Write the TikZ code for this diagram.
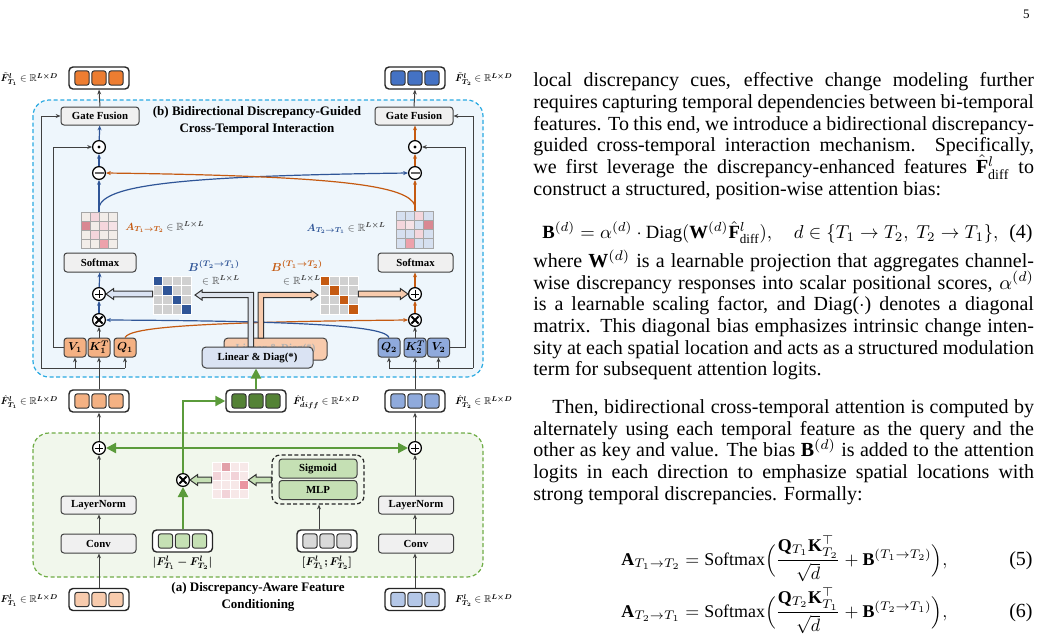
\documentclass[tikz,border=0pt]{standalone}
\usepackage{amsmath,amssymb,bm}
\usepackage{fontspec}
\setmainfont{Liberation Serif}
\usetikzlibrary{arrows.meta,calc}
\definecolor{bfill}{HTML}{EEF6FC}
\definecolor{bline}{HTML}{2AAAE2}
\definecolor{afill}{HTML}{F1F7EC}
\definecolor{aline}{HTML}{70AD47}
\definecolor{gbox}{HTML}{F0F0F0}
\definecolor{dk}{HTML}{404040}
\definecolor{orD}{HTML}{ED7D31}
\definecolor{orM}{HTML}{F4B183}
\definecolor{orL}{HTML}{F8CBAD}
\definecolor{blD}{HTML}{4472C4}
\definecolor{blM}{HTML}{8FAADC}
\definecolor{blL}{HTML}{B4C7E7}
\definecolor{gnD}{HTML}{548235}
\definecolor{gnL}{HTML}{C5E0B4}
\definecolor{gy}{HTML}{D9D9D9}
\definecolor{arrB}{HTML}{2F5597}
\definecolor{arrO}{HTML}{C55A11}
\definecolor{grn}{HTML}{5B9B3B}
\definecolor{ldiag}{HTML}{DAE3F3}
\definecolor{lgray}{HTML}{DDE3EC}
\definecolor{mb}{HTML}{F2EDE9}
\definecolor{lb}{HTML}{D6E0F0}
\definecolor{pA}{HTML}{F4D6DC}
\definecolor{pB}{HTML}{F6E2E6}
\definecolor{pC}{HTML}{EDA1AB}
\definecolor{pD}{HTML}{D98892}
\definecolor{pa}{HTML}{F7E8E8}
\definecolor{qA}{HTML}{F2D3D8}
\definecolor{qB}{HTML}{E2A1A9}
\definecolor{qC}{HTML}{EA95A2}
\definecolor{gB}{HTML}{D0D0D0}
\newcommand\grid[6]{%
  \node[inner sep=0, minimum size={4*#4*0.5pt}] (#1) at ({#2+2*#4},{#3+2*#4}) {};
  \foreach \c [count=\i from 0] in {#6} {%
    \pgfmathtruncatemacro\gridr{floor(\i/4)}%
    \pgfmathtruncatemacro\gridc{mod(\i,4)}%
    \path[fill=\c, draw=#5, line width=0.4pt] ({#2+\gridc*#4},{#3+\gridr*#4}) rectangle ++(#4,#4);
  }}
\newcommand\tok[4]{%
  \node[tokbox] (#1) at (#2,#3) {};
  \foreach \d in {-17,0,17} \node[tokcell, fill=#4] at ($(#1)+(\d,0)$) {};}
% #1 tail, #2 tip, #3 fill, #4 sign: - for rightward, + for leftward
\newcommand\harrow[4]{%
  \draw[hollow, fill=#3] let \p1=#1, \p2=#2 in
    ({\x1},{\y2+1.4pt}) -- ({\x2#4 3.8pt},{\y2+1.4pt}) -- ({\x2#4 3.8pt},{\y2+2.7pt}) -- ({\x2},{\y2})
    -- ({\x2#4 3.8pt},{\y2-2.7pt}) -- ({\x2#4 3.8pt},{\y2-1.4pt}) -- ({\x1},{\y2-1.4pt}) -- cycle;}
\newcommand\lm[2][0.5]{\scalebox{#1}{\fontsize{10}{12}\selectfont$#2$}}
\newcommand\Rld{\in\mathbb{R}^{\bm{L\times D}}}
\newcommand\Rll{\in\mathbb{R}^{\bm{L\times L}}}
\newcommand\jline[3]{\node[txt] (#1) at (533,#2) {\makebox[250.3pt][s]{#3}};}
\newcommand\nline[3]{\node[txt] (#1) at (533,#2) {#3};}
\begin{document}
\begin{tikzpicture}[x=0.5pt,y=-0.5pt,
  box/.style={draw=dk, fill=gbox, rounded corners=1.5pt, line width=0.5pt, inner sep=0,
    font=\bfseries\fontsize{5.4}{6.5}\selectfont, minimum height=9pt},
  gnbox/.style={box, fill=gnL, minimum width=39pt, minimum height=9.5pt},
  qo/.style={draw=dk, fill=orM, rounded corners=1.5pt, line width=0.5pt, inner sep=0,
    minimum width=11pt, minimum height=9.5pt},
  qb/.style={qo, fill=blM},
  tokbox/.style={draw=black!85, fill=white, rounded corners=2pt, line width=0.7pt,
    minimum width=30pt, minimum height=11pt, inner sep=0},
  tokcell/.style={draw=black!80, rounded corners=1.3pt, line width=0.5pt,
    minimum size=7.2pt, inner sep=0},
  opc/.style={circle, draw=black, line width=0.6pt, fill=white, minimum size=6.4pt, inner sep=0},
  oplus/.style={opc, path picture={\draw[line width=0.5pt]
     ($(path picture bounding box.center)+(-4,0)$) -- ++(8,0)
     ($(path picture bounding box.center)+(0,-4)$) -- ++(0,8);}},
  odot/.style={opc, path picture={\fill[black] (path picture bounding box.center) circle (0.8pt);}},
  ominus/.style={opc, path picture={\draw[line width=0.8pt, black!60]
     ($(path picture bounding box.center)+(-4.5,0)$) -- ++(9,0);}},
  otimes/.style={opc, path picture={\draw[line width=0.9pt]
     ($(path picture bounding box.center)+(-3.6,-3.6)$) -- ++(7.2,7.2)
     ($(path picture bounding box.center)+(-3.6,3.6)$) -- ++(7.2,-7.2);}},
  tip/.style={-{Stealth[length=2.4pt,width=2pt]}},
  ln/.style={draw=dk, line width=0.5pt},
  cn/.style={ln, tip},
  bl/.style={draw=arrB, line width=0.6pt, tip},
  ol/.style={draw=arrO, line width=0.6pt, tip},
  gr/.style={draw=grn, line width=1.1pt, -{Triangle[length=5pt,width=5pt]}},
  grl/.style={draw=grn, line width=1.1pt},
  hollow/.style={draw=black!80, line width=0.5pt, line join=miter},
  lab/.style={inner sep=0},
  ttl/.style={inner sep=0, align=center, font=\bfseries\fontsize{6.5}{8.5}\selectfont},
  txt/.style={anchor=base west, inner sep=0, font=\fontsize{10}{12}\selectfont}
]
\fill[white] (0,0) rectangle (1041,639);
\useasboundingbox (0,0) rectangle (1041,639);
\clip (0,0) rectangle (1041,639);

% ---------- backgrounds ----------
\draw[bline, dash pattern=on 2pt off 1.3pt, fill=bfill, line width=0.6pt, rounded corners=8pt] (33,100) rectangle (483,377);
\draw[aline, dash pattern=on 2pt off 1.3pt, fill=afill, line width=0.6pt, rounded corners=8pt] (33,433) rectangle (483,577);
\node[ttl] (titleB) at (257,121) {(b) Bidirectional Discrepancy-Guided\\Cross-Temporal Interaction};
\node[ttl] (titleA) at (258,597) {(a) Discrepancy-Aware Feature\\Conditioning};

% ---------- tokens ----------
\tok{outT1}{99}{78}{orD}
\tok{outT2}{415}{78}{blD}
\tok{midT1}{99}{401}{orM}
\tok{midT2}{415}{401}{blM}
\tok{diff}{256}{401}{gnD}
\tok{inT1}{99}{599.5}{orL}
\tok{inT2}{415}{599.5}{blL}
\tok{absd}{182.5}{541}{gnL}
\tok{cat}{327}{541}{gy}

\node[lab, anchor=east] (loutT1) at ($(outT1.west)+(-10,1)$) {\lm{\tilde{\bm F}^{\bm l}_{\bm{T_1}}\Rld}};
\node[lab, anchor=west] (loutT2) at ($(outT2.east)+(9,1)$) {\lm{\tilde{\bm F}^{\bm l}_{\bm{T_2}}\Rld}};
\node[lab, anchor=east] (lmidT1) at ($(midT1.west)+(-10,1)$) {\lm{\hat{\bm F}^{\bm l}_{\bm{T_1}}\Rld}};
\node[lab, anchor=west] (lmidT2) at ($(midT2.east)+(9,1)$) {\lm{\hat{\bm F}^{\bm l}_{\bm{T_2}}\Rld}};
\node[lab, anchor=west] (ldiff) at ($(diff.east)+(6,1)$) {\lm{\hat{\bm F}^{\bm l}_{\bm{diff}}\Rld}};
\node[lab, anchor=east] (linT1) at ($(inT1.west)+(-10,1)$) {\lm{\bm F^{\bm l}_{\bm{T_1}}\Rld}};
\node[lab, anchor=west] (linT2) at ($(inT2.east)+(9,1)$) {\lm{\bm F^{\bm l}_{\bm{T_2}}\Rld}};
\node[lab] (labsd) at (182.5,563) {\lm[0.56]{\bm{|F^l_{T_1}-F^l_{T_2}|}}};
\node[lab] (lcat) at (327,563) {\lm[0.56]{\bm{[F^l_{T_1};F^l_{T_2}]}}};

% ---------- (b) nodes ----------
\node[box, minimum width=39pt] (gateL) at (100,116) {Gate Fusion};
\node[box, minimum width=39pt] (gateR) at (414,116) {Gate Fusion};
\node[odot] (dotL) at (99,147) {};
\node[ominus] (minL) at (99,173) {};
\node[odot] (dotR) at (415,147) {};
\node[ominus] (minR) at (415,173) {};
\grid{attnL}{81}{212}{9}{gray!70}{mb,pA,mb,mb, pD,mb,pA,pB, mb,pA,mb,mb, mb,mb,pC,mb}
\grid{attnR}{396}{211}{9.25}{gray!70}{lb,lb,pA,lb, pA,pB,lb,pD, lb,lb,pA,lb, lb,pC,lb,lb}
\node[lab, anchor=west] (lattnL) at (125,227) {\lm[0.52]{\color{arrO}\bm{A_{T_1\to T_2}}\color{dk}\Rll}};
\node[lab, anchor=east] (lattnR) at (386,228) {\lm[0.52]{\color{arrB}\bm{A_{T_2\to T_1}}\color{dk}\Rll}};
\node[box, minimum width=36pt, minimum height=9.5pt] (smL) at (100,262.5) {Softmax};
\node[box, minimum width=37.5pt, minimum height=9.5pt] (smR) at (415.5,262.5) {Softmax};
\node[oplus] (plL) at (99,294) {};
\node[otimes] (mulL) at (99,320) {};
\node[oplus] (plR) at (415,294) {};
\node[otimes] (mulR) at (415,320) {};
\grid{BL}{153}{276}{9.5}{white}{arrB,gB,gB,gB, gB,arrB,gB,gB, gB,gB,arrB,gB, gB,gB,gB,arrB}
\grid{BR}{320}{276}{9.5}{white}{arrO,gB,gB,gB, gB,arrO,gB,gB, gB,gB,arrO,gB, gB,gB,gB,arrO}
\node[lab] (lBL1) at (214,266) {\lm[0.58]{\color{arrB}\bm{B^{(T_2\to T_1)}}}};
\node[lab] (lBL2) at (221,280.5) {\lm[0.52]{\color{dk}\Rll}};
\node[lab] (lBR1) at (297,266) {\lm[0.58]{\color{arrO}\bm{B^{(T_1\to T_2)}}}};
\node[lab] (lBR2) at (302,280.5) {\lm[0.52]{\color{dk}\Rll}};
\node[qo] (V1) at (75,347.5) {\lm[0.58]{\bm{V_1}}};
\node[qo] (K1) at (99,347.5) {\lm[0.58]{\bm{K_1^T}}};
\node[qo] (Q1) at (125,347.5) {\lm[0.58]{\bm{Q_1}}};
\node[qb] (Q2) at (389,347.5) {\lm[0.58]{\bm{Q_2}}};
\node[qb] (K2) at (415,347.5) {\lm[0.58]{\bm{K_2^T}}};
\node[qb] (V2) at (438.5,347.5) {\lm[0.58]{\bm{V_2}}};

% ---------- (a) nodes ----------
\node[oplus] (pbL) at (99,448) {};
\node[oplus] (pbR) at (415,448) {};
\node[otimes] (mulG) at (183,480) {};
\grid{pinkM}{212}{462}{9}{white}{pa,qB,pa,pa, qA,pa,qA,pa, pa,pa,pa,qC, pa,qA,pa,pa}
\node[draw=black!85, dash pattern=on 2pt off 1.2pt, line width=0.6pt, rounded corners=4pt,
  minimum width=46pt, minimum height=24.5pt, inner sep=0] (sigbox) at (318,479.5) {};
\node[gnbox] (sig) at (318,468.5) {Sigmoid};
\node[gnbox] (mlp) at (318,490) {MLP};
\node[box, minimum width=37.5pt] (lnL) at (98.5,505) {LayerNorm};
\node[box, minimum width=37.5pt] (lnR) at (416,505) {LayerNorm};
\node[box, minimum width=37.5pt, minimum height=9.5pt] (convL) at (98.5,543.5) {Conv};
\node[box, minimum width=37.5pt, minimum height=9.5pt] (convR) at (416,543.5) {Conv};

% ---------- (b) connectors ----------
\draw[ln, tip] (gateL.north) -- (outT1.south);
\draw[ln, tip] (gateR.north) -- (outT2.south);
\draw[bl] (dotL) -- (gateL);
\draw[bl] (minL) -- (dotL);
\draw[bl] (attnL.north) -- (minL);
\draw[bl] (mulL) -- (plL);
\draw[bl] (plL) -- (smL);
\draw[ol] (dotR) -- (gateR.south -| dotR);
\draw[ol] (minR) -- (dotR);
\draw[ol] (attnR.north -| minR) -- (minR);
\draw[ol] (mulR) -- (plR);
\draw[ol] (plR) -- (smR.south -| plR);
\draw[cn] (K1) -- (mulL);
\draw[cn] (K2) -- (mulR);
\coordinate (bs) at ($(attnL.north)+(0,-5)$);
\coordinate (os) at ($(attnR.north -| minR)+(0,-5)$);
\draw[bl] (bs) .. controls (106,186) and (170,176) .. (minR.west);
\draw[ol] (os) .. controls (408,186) and (344,176) .. (minL.east);
\draw[ol] (Q1.north) .. controls (130,327) and (200,322) .. (mulR.west);
\draw[bl] (Q2.north) .. controls (385,327) and (320,321) .. (mulL.east);

\coordinate (jL) at (99,368);
\coordinate (oL) at (41,368);
\coordinate (qL) at (125,368);
\draw[ln] (midT1.north) -- (jL);
\draw[ln] (oL) -- (qL);
\draw[cn] (jL) -- (K1.south);
\draw[cn] (V1.south |- jL) -- (V1.south);
\draw[cn] (qL) -- (Q1.south);
\draw[cn] (oL) |- (gateL.west);
\draw[cn] (V1.west) -- ++(-10,0) |- (dotL.west);
\coordinate (jR) at (415,368);
\coordinate (oR) at (473,368);
\coordinate (qR) at (389,368);
\draw[ln] (midT2.north) -- (jR);
\draw[ln] (qR) -- (oR);
\draw[cn] (jR) -- (K2.south);
\draw[cn] (V2.south |- jR) -- (V2.south);
\draw[cn] (qR) -- (Q2.south);
\draw[cn] (oR) |- (gateR.east);
\draw[cn] (V2.east) -- ++(15,0) |- (dotR.east);

\harrow{(BL.west)}{(plL.east)}{ldiag}{+}
\harrow{(BR.east)}{(plR.west)}{orL}{-}

\node[draw=dk, fill=orL, rounded corners=2pt, line width=0.5pt, minimum width=51.5pt, minimum height=11pt,
  inner sep=0, text=black!30, font=\bfseries\fontsize{5.4}{6.5}\selectfont] (linB) at (275.5,349) {Linear \& Diag(*)};
\draw[hollow, fill=orL] (258,338) -- (258,292.3) -- (311,292.3) -- (311,290) -- (318,295) -- (311,300) -- (311,297.7) -- (263.5,297.7) -- (263.5,338) -- cycle;
\draw[hollow, fill=lgray] (248,347) -- (248,297.7) -- (202,297.7) -- (202,300) -- (195,295) -- (202,290) -- (202,292.3) -- (253.5,292.3) -- (253.5,347) -- cycle;
\node[draw=dk, fill=ldiag, rounded corners=2pt, line width=0.5pt, minimum width=55.5pt, minimum height=10.5pt,
  inner sep=0, font=\bfseries\fontsize{5.4}{6.5}\selectfont] (linF) at (257.5,357.5) {Linear \& Diag(*)};

% ---------- (a) connectors ----------
\draw[cn] (inT1) -- (convL.south -| inT1);
\draw[cn] (convL.north -| inT1) -- (lnL.south -| inT1);
\draw[cn] (lnL.north -| inT1) -- (pbL);
\draw[cn] (pbL) -- (midT1);
\draw[cn] (inT2) -- (convR.south -| inT2);
\draw[cn] (convR.north -| inT2) -- (lnR.south -| inT2);
\draw[cn] (lnR.north -| inT2) -- (pbR);
\draw[cn] (pbR) -- (midT2);
\draw[cn] ([xshift=-4pt]cat.north) -- ([xshift=-4pt]cat.north |- sigbox.south);
\coordinate (gj) at (183,448);
\draw[gr] (absd.north -| mulG) -- (mulG.south);
\draw[grl] (mulG.north) -- (gj);
\draw[gr] (gj) |- (diff.west);
\draw[gr] (gj) -- (pbL.east);
\draw[gr] (gj) -- (pbR.west);
\draw[gr] (diff.north) -- (linF.south -| diff);
\harrow{(pinkM.west)}{(mulG.east)}{gnL}{+}
\harrow{(sigbox.west)}{(pinkM.east)}{gnL}{+}

% ---------- right column text ----------
\node[anchor=base east, inner sep=0, font=\fontsize{6.5}{7}\selectfont] (pnum) at (1030,18.5) {5};
\jline{t1}{86.7}{local discrepancy cues, effective change modeling further}
\jline{t2}{108.3}{requires capturing temporal dependencies between bi-temporal}
\jline{t3}{130}{features. To this end, we introduce a bidirectional discrepancy-}
\jline{t4}{151.7}{guided cross-temporal interaction mechanism. Specifically,}
\jline{t5}{173.3}{we first leverage the discrepancy-enhanced features $\hat{\mathbf F}^l_{\mathrm{diff}}$ to}
\nline{t6}{195}{construct a structured, position-wise attention bias:}
\node[txt] (eq4) at (542,238.3) {\resizebox{228pt}{!}{$\mathbf B^{(d)}=\alpha^{(d)}\cdot\mathrm{Diag}(\mathbf W^{(d)}\hat{\mathbf F}^l_{\mathrm{diff}}),\quad d\in\{T_1\to T_2,\ T_2\to T_1\},$}};
\node[anchor=base east, inner sep=0, font=\fontsize{10}{12}\selectfont] (n4) at (1033,238.3) {(4)};
\jline{t7}{267.3}{where $\mathbf W^{(d)}$ is a learnable projection that aggregates channel-}
\jline{t8}{289}{wise discrepancy responses into scalar positional scores, $\alpha^{(d)}$}
\jline{t9}{310.7}{is a learnable scaling factor, and Diag($\cdot$) denotes a diagonal}
\jline{t10}{332.3}{matrix. This diagonal bias emphasizes intrinsic change inten-}
\jline{t11}{354}{sity at each spatial location and acts as a structured modulation}
\nline{t12}{375.7}{term for subsequent attention logits.}
\node[txt] (t13) at (552,413.3) {\makebox[240.8pt][s]{Then, bidirectional cross-temporal attention is computed by}};
\jline{t14}{435}{alternately using each temporal feature as the query and the}
\jline{t15}{456.7}{other as key and value. The bias $\mathbf B^{(d)}$ is added to the attention}
\jline{t16}{478.3}{logits in each direction to emphasize spatial locations with}
\nline{t17}{500}{strong temporal discrepancies. Formally:}
\node[txt] (eq5) at (621,565) {\resizebox{163pt}{!}{$\mathbf A_{T_1\to T_2}=\mathrm{Softmax}\Big(\dfrac{\mathbf Q_{T_1}\mathbf K_{T_2}^{\top}}{\sqrt{d}}+\mathbf B^{(T_1\to T_2)}\Big),$}};
\node[anchor=base east, inner sep=0, font=\fontsize{10}{12}\selectfont] (n5) at (1033,565) {(5)};
\node[txt] (eq6) at (621,617) {\resizebox{163pt}{!}{$\mathbf A_{T_2\to T_1}=\mathrm{Softmax}\Big(\dfrac{\mathbf Q_{T_2}\mathbf K_{T_1}^{\top}}{\sqrt{d}}+\mathbf B^{(T_2\to T_1)}\Big),$}};
\node[anchor=base east, inner sep=0, font=\fontsize{10}{12}\selectfont] (n6) at (1033,617) {(6)};
\end{tikzpicture}
\end{document}
